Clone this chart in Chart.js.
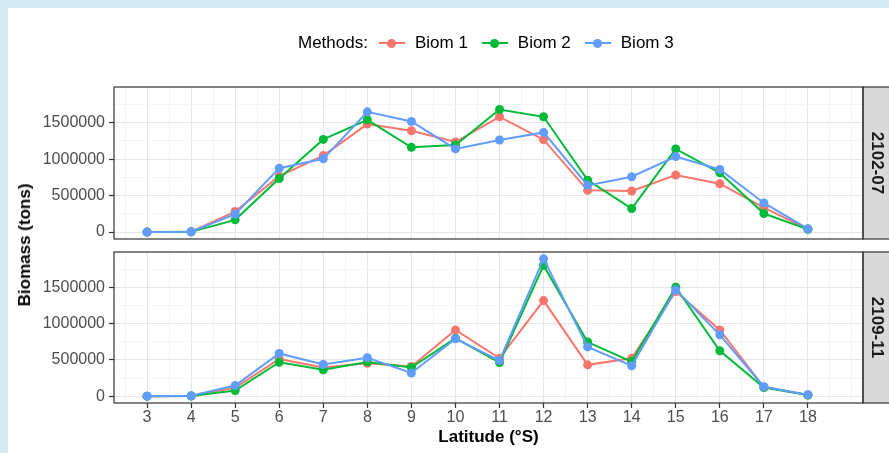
<!DOCTYPE html>
<html><head><meta charset="utf-8">
<script src="https://cdn.jsdelivr.net/npm/chart.js@4.4.1/dist/chart.umd.min.js"></script>
<style>
html,body{margin:0;padding:0;}
body{width:889px;height:453px;background:#d6ebf1;position:relative;overflow:hidden;font-family:"Liberation Sans",Arial,sans-serif;}
#card{position:absolute;left:8px;top:8px;right:0;bottom:0;background:#fff;}
canvas{position:absolute;left:0;}
#c1{top:0}
#c2{top:245px}
#legend{position:absolute;left:298px;top:33px;height:20px;display:flex;align-items:center;font-size:17px;color:#000;white-space:nowrap;}
#legend .ttl{margin-right:11px;}
#legend .mk{position:relative;width:26px;height:20px;margin-right:10px;}
#legend .mk .ln{position:absolute;left:0;right:0;top:9px;height:2px;}
#legend .mk .pt{position:absolute;left:8.5px;top:5.5px;width:9px;height:9px;border-radius:50%;}
#legend .lb{margin-right:14px;}
#ytitle{position:absolute;left:25px;top:245px;transform:translate(-50%,-50%) rotate(-90deg);font-weight:bold;font-size:17px;white-space:nowrap;color:#000;}
</style></head>
<body>
<div id="card"></div>
<canvas id="c1" width="889" height="245"></canvas>
<canvas id="c2" width="889" height="208"></canvas>
<div id="legend"></div>
<div id="ytitle">Biomass (tons)</div>
<script>
// ---- data ----
const latitudes = [3,4,5,6,7,8,9,10,11,12,13,14,15,16,17,18];
const periods = ['2102-07','2109-11'];
const methods = ['Biom 1','Biom 2','Biom 3'];

const biom1_2102 = [0,5000,282000,768000,1050000,1482000,1391000,1236000,1582000,1268000,573000,564000,782000,664000,336000,41000];
const biom2_2102 = [0,3000,168000,736000,1272000,1541000,1163000,1195000,1682000,1582000,713000,323000,1141000,814000,255000,38000];
const biom3_2102 = [0,4000,245000,877000,1005000,1650000,1518000,1141000,1264000,1368000,641000,759000,1036000,859000,400000,45000];

const biom1_2109 = [0,3000,117000,513000,396000,455000,410000,915000,523000,1320000,432000,523000,1446000,915000,125000,15000];
const biom2_2109 = [0,2000,77000,468000,365000,473000,396000,801000,464000,1806000,747000,477000,1504000,626000,120000,15000];
const biom3_2109 = [0,4000,146000,590000,437000,531000,320000,793000,491000,1896000,680000,419000,1468000,847000,130000,18000];

const yTickValues = [0,500000,1000000,1500000];
const yMinorValues = [250000,750000,1250000,1750000];
const xMinorValues = [2.5,3.5,4.5,5.5,6.5,7.5,8.5,9.5,10.5,11.5,12.5,13.5,14.5,15.5,16.5,17.5,18.5,19];

// ---- styling ----
const colors = ['#F8766D','#00BA38','#619CFF'];
const FONT = '"Liberation Sans", Arial, sans-serif';

const allVals = [].concat(biom1_2102,biom2_2102,biom3_2102,biom1_2109,biom2_2109,biom3_2109);
const dataMax = Math.max(...allVals);
const yMin = -0.05*dataMax, yMax = 1.05*dataMax;

const panelSeries = {
  '2102-07':[biom1_2102,biom2_2102,biom3_2102],
  '2109-11':[biom1_2109,biom2_2109,biom3_2109]
};

function makeDatasets(period){
  return methods.map((m,i)=>({
    label:m,
    data: latitudes.map((lat,j)=>({x:lat,y:panelSeries[period][i][j]})),
    borderColor:colors[i], backgroundColor:colors[i],
    pointBackgroundColor:colors[i], pointBorderWidth:0,
    pointRadius:4.5, borderWidth:2, tension:0,
    order: methods.length-1-i
  }));
}

const isMajorX = v => latitudes.includes(v);
const isMajorY = v => yTickValues.includes(v);

const panelDecor = {
  id:'panelDecor',
  afterDraw(chart){
    const ca = chart.chartArea, ctx = chart.ctx;
    const label = chart.options.plugins.panelDecor.label;
    ctx.save();
    // strip
    ctx.fillStyle = '#d9d9d9';
    ctx.fillRect(ca.right, ca.top, chart.width - ca.right + 2, ca.bottom - ca.top);
    ctx.strokeStyle = '#333333';
    ctx.lineWidth = 1.2;
    ctx.strokeRect(ca.right, ca.top, chart.width - ca.right + 4, ca.bottom - ca.top);
    // panel border
    ctx.strokeRect(ca.left, ca.top, ca.right - ca.left, ca.bottom - ca.top);
    // strip text
    ctx.translate(877, (ca.top + ca.bottom)/2);
    ctx.rotate(Math.PI/2);
    ctx.fillStyle = '#1a1a1a';
    ctx.font = 'bold 17px ' + FONT;
    ctx.textAlign = 'center';
    ctx.textBaseline = 'middle';
    ctx.fillText(label, 0, 0);
    ctx.restore();
  }
};

function zeroPad(s){ s.paddingLeft = s.paddingRight = s.paddingTop = s.paddingBottom = 0; }

function makeChart(canvasId, period, bottomPanel){
  const canvas = document.getElementById(canvasId);
  return new Chart(canvas, {
    type:'line',
    data:{datasets: makeDatasets(period)},
    plugins:[panelDecor],
    options:{
      responsive:false, animation:false, devicePixelRatio:1,
      layout:{padding:{top: bottomPanel ? 7 : 87, right:26, left:0, bottom:0}},
      plugins:{legend:{display:false}, tooltip:{enabled:false}, panelDecor:{label:period}},
      scales:{
        x:{
          type:'linear', min:2.25, max:19.25,
          afterBuildTicks: s => { s.ticks = latitudes.concat(xMinorValues).sort((a,b)=>a-b).map(v=>({value:v})); },
          afterFit: s => { s.height = bottomPanel ? 50 : 6; zeroPad(s); },
          border:{display:false},
          grid:{
            color: c => (c.tick && isMajorX(c.tick.value)) ? '#e6e6e6' : '#f4f4f4',
            lineWidth: c => (c.tick && isMajorX(c.tick.value)) ? 1 : 1,
            drawTicks: bottomPanel, tickLength:5, tickWidth:1.2,
            tickColor: c => (c.tick && isMajorX(c.tick.value)) ? '#333333' : 'rgba(0,0,0,0)'
          },
          ticks:{
            display: bottomPanel, autoSkip:false, maxRotation:0, padding:0,
            color:'#4d4d4d', font:{family:FONT, size:16},
            callback: v => isMajorX(v) ? String(v) : ''
          },
          title:{display: bottomPanel, text:'Latitude (°S)', color:'#000',
                 font:{family:FONT, size:17, weight:'bold'}, padding:{top:0,bottom:5}}
        },
        y:{
          min:yMin, max:yMax,
          afterBuildTicks: s => { s.ticks = yTickValues.concat(yMinorValues).sort((a,b)=>a-b).map(v=>({value:v})); },
          afterFit: s => { s.width = 114; zeroPad(s); },
          border:{display:false},
          grid:{
            color: c => (c.tick && isMajorY(c.tick.value)) ? '#e6e6e6' : '#f4f4f4',
            drawTicks:true, tickLength:5, tickWidth:1.2,
            tickColor: c => (c.tick && isMajorY(c.tick.value)) ? '#333333' : 'rgba(0,0,0,0)'
          },
          ticks:{
            autoSkip:false, padding:4, color:'#4d4d4d', font:{family:FONT, size:16},
            callback: v => isMajorY(v) ? String(v) : ''
          }
        }
      }
    }
  });
}

const chart1 = makeChart('c1', periods[0], false);
const chart2 = makeChart('c2', periods[1], true);

// HTML legend built from the chart's datasets
const legendEl = document.getElementById('legend');
const ttl = document.createElement('span'); ttl.className='ttl'; ttl.textContent='Methods:';
legendEl.appendChild(ttl);
chart1.data.datasets.forEach(ds=>{
  const mk = document.createElement('span'); mk.className='mk';
  const ln = document.createElement('span'); ln.className='ln'; ln.style.background = ds.borderColor;
  const pt = document.createElement('span'); pt.className='pt'; pt.style.background = ds.backgroundColor;
  mk.appendChild(ln); mk.appendChild(pt);
  const lb = document.createElement('span'); lb.className='lb'; lb.textContent = ds.label;
  legendEl.appendChild(mk); legendEl.appendChild(lb);
});
</script>
</body></html>
